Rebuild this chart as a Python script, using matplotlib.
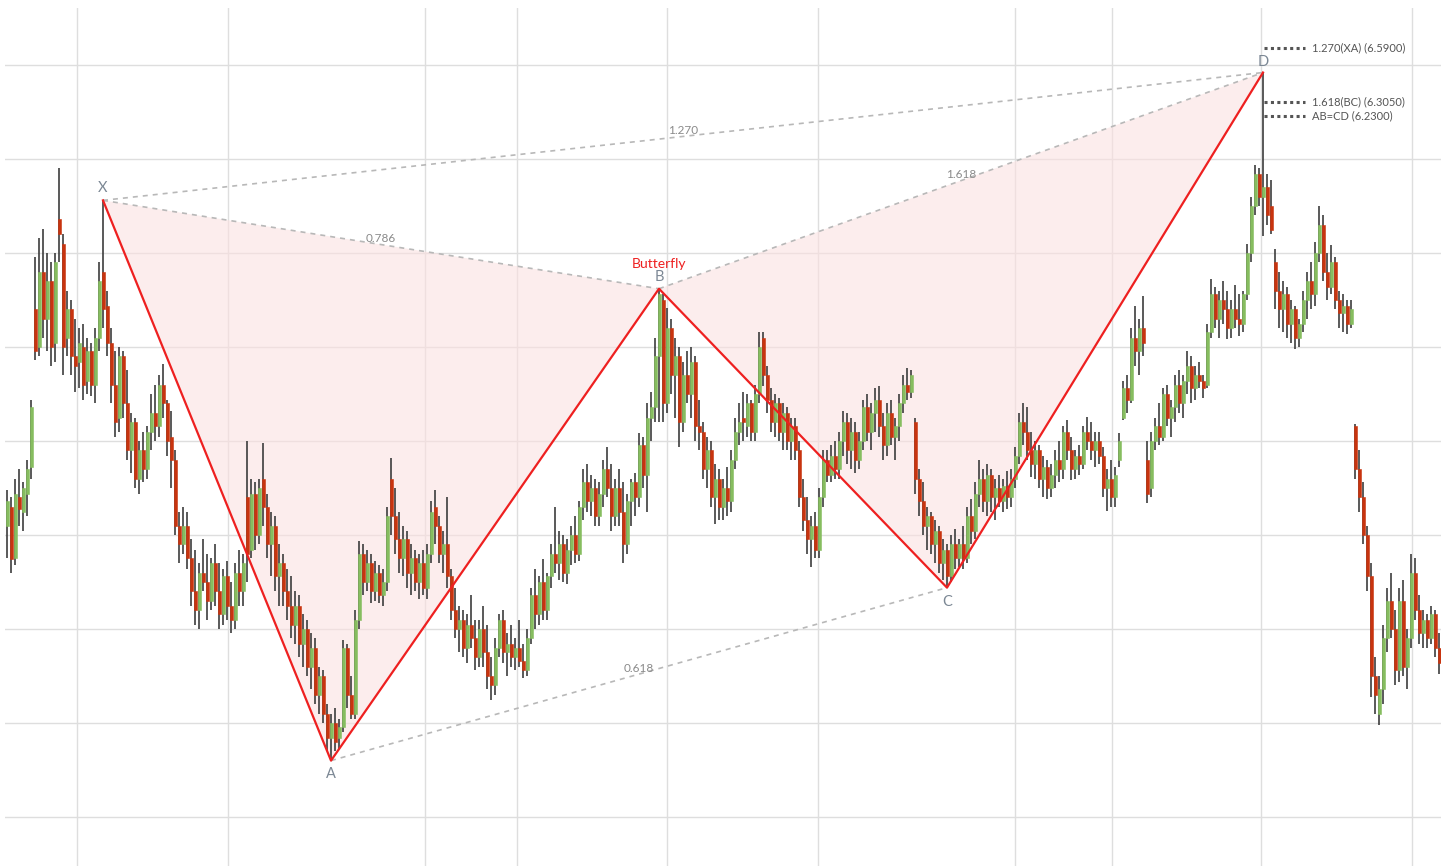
import numpy as np
import matplotlib.pyplot as plt

plt.rcParams['font.family'] = ['Lato', 'DejaVu Sans']

# =========================
# Candle data
# =========================
opens = [
    4.05, 4.15, 3.88, 4.20, 4.12, 4.22, 4.36, 5.20, 5.00, 5.40,
    5.15, 5.35, 5.02, 5.68, 5.55, 5.05, 5.20, 4.95, 4.92, 5.00,
    4.82, 4.98, 4.80, 5.05, 5.40, 5.22, 5.02, 4.80, 4.62, 4.95,
    4.70, 4.45, 4.60, 4.30, 4.45, 4.35, 4.55, 4.65, 4.58, 4.80,
    4.70, 4.52, 4.40, 4.05, 3.95, 4.05, 3.88, 3.70, 3.60, 3.80,
    3.75, 3.65, 3.85, 3.70, 3.58, 3.78, 3.62, 3.55, 3.80, 3.70,
    4.20, 3.92, 4.22, 4.00, 4.30, 4.15, 3.95, 4.05, 3.78, 3.85,
    3.70, 3.62, 3.52, 3.62, 3.42, 3.50, 3.30, 3.40, 3.15, 3.25,
    3.05, 2.92, 3.00, 2.92, 2.98, 3.40, 3.15, 3.05, 3.55, 3.90,
    3.75, 3.85, 3.70, 3.80, 3.68, 3.75, 4.30, 4.10, 3.98, 3.88,
    3.98, 3.80, 3.88, 3.75, 3.85, 3.72, 3.90, 4.15, 4.05, 3.90,
    3.95, 3.78, 3.60, 3.50, 3.55, 3.40, 3.52, 3.45, 3.35, 3.50,
    3.38, 3.25, 3.20, 3.40, 3.55, 3.38, 3.42, 3.35, 3.40, 3.33,
    3.28, 3.45, 3.68, 3.58, 3.75, 3.60, 3.78, 3.90, 3.85, 3.95,
    3.80, 3.92, 4.00, 3.90, 4.15, 4.28, 4.18, 4.25, 4.10, 4.22,
    4.35, 4.25, 4.10, 4.25, 4.12, 3.95, 4.18, 4.28, 4.20, 4.48,
    4.32, 4.62, 4.68, 4.95, 5.25, 4.70, 5.10, 4.85, 4.95, 4.60,
    4.85, 4.75, 4.92, 4.58, 4.55, 4.35, 4.45, 4.20, 4.30, 4.15,
    4.25, 4.18, 4.40, 4.55, 4.60, 4.58, 4.70, 4.55, 4.75, 5.05,
    4.85, 4.72, 4.60, 4.70, 4.55, 4.65, 4.50, 4.58, 4.45, 4.20,
    4.08, 3.98, 4.05, 3.92, 4.20, 4.40, 4.32, 4.42, 4.35, 4.50,
    4.60, 4.45, 4.55, 4.40, 4.50, 4.68, 4.55, 4.65, 4.72, 4.58,
    4.48, 4.65, 4.52, 4.58, 4.70, 4.80, 4.76, 4.60, 4.30, 4.18,
    4.05, 4.10, 3.95, 4.02, 3.85, 3.92, 3.78, 3.95, 3.88, 3.95,
    3.88, 4.10, 4.02, 4.22, 4.30, 4.18, 4.32, 4.20, 4.25, 4.18,
    4.26, 4.20, 4.30, 4.42, 4.60, 4.55, 4.45, 4.38, 4.45, 4.30,
    4.36, 4.25, 4.32, 4.40, 4.35, 4.55, 4.45, 4.35, 4.42, 4.38,
    4.55, 4.50, 4.45, 4.50, 4.42, 4.25, 4.30, 4.20, 4.40, 4.62,
    4.78, 4.72, 5.05, 4.98, 5.10, 4.40, 4.25, 4.50, 4.58, 4.52,
    4.75, 4.62, 4.68, 4.80, 4.70, 4.82, 4.90, 4.78, 4.85, 4.82,
    4.80, 5.08, 5.28, 5.15, 5.25, 5.20, 5.10, 5.20, 5.15, 5.12,
    5.28, 5.50, 5.75, 5.92, 5.80, 5.85, 5.75, 5.45, 5.30, 5.20,
    5.28, 5.12, 5.20, 5.05, 5.12, 5.25, 5.35, 5.28, 5.50, 5.65,
    5.40, 5.32, 5.45, 5.25, 5.18, 5.22, 5.12, 4.58, 4.35, 4.20,
    4.00, 3.78, 3.25, 3.05, 3.18, 3.45, 3.65, 3.50, 3.28, 3.65,
    3.30, 3.45, 3.80, 3.60, 3.48, 3.55, 3.45, 3.58, 3.40,
]
highs = [
    4.24, 4.20, 4.30, 4.35, 4.28, 4.40, 4.72, 5.48, 5.58, 5.63,
    5.50, 5.45, 5.50, 5.95, 5.60, 5.30, 5.25, 5.15, 5.10, 5.12,
    5.05, 5.02, 5.10, 5.45, 5.78, 5.30, 5.10, 4.98, 5.00, 4.98,
    4.88, 4.65, 4.62, 4.50, 4.55, 4.58, 4.75, 4.80, 4.85, 4.91,
    4.72, 4.66, 4.45, 4.12, 4.15, 4.12, 3.98, 3.92, 3.85, 3.98,
    3.90, 3.88, 3.95, 3.85, 3.82, 3.86, 3.75, 3.85, 3.92, 3.90,
    4.50, 4.30, 4.28, 4.30, 4.49, 4.22, 4.12, 4.10, 3.95, 3.90,
    3.82, 3.78, 3.70, 3.68, 3.58, 3.55, 3.48, 3.45, 3.30, 3.28,
    3.10, 3.05, 3.08, 3.02, 3.44, 3.42, 3.25, 3.60, 3.97, 3.95,
    3.92, 3.90, 3.86, 3.84, 3.82, 4.15, 4.41, 4.25, 4.12, 4.05,
    4.02, 3.95, 3.92, 3.90, 3.92, 3.95, 4.18, 4.24, 4.10, 4.02,
    4.20, 3.82, 3.72, 3.62, 3.60, 3.58, 3.68, 3.55, 3.55, 3.62,
    3.52, 3.35, 3.45, 3.58, 3.60, 3.48, 3.52, 3.45, 3.55, 3.42,
    3.50, 3.72, 3.82, 3.78, 3.87, 3.80, 3.95, 4.15, 4.02, 4.00,
    3.98, 4.05, 4.10, 4.18, 4.35, 4.38, 4.32, 4.30, 4.28, 4.40,
    4.47, 4.38, 4.30, 4.35, 4.28, 4.22, 4.30, 4.33, 4.54, 4.52,
    4.70, 4.76, 5.05, 5.31, 5.28, 5.21, 5.15, 5.05, 5.00, 4.92,
    4.98, 5.00, 4.95, 4.72, 4.60, 4.52, 4.50, 4.38, 4.35, 4.30,
    4.36, 4.45, 4.62, 4.70, 4.76, 4.75, 4.72, 4.80, 5.08, 5.08,
    4.90, 4.78, 4.75, 4.73, 4.70, 4.68, 4.62, 4.62, 4.50, 4.30,
    4.20, 4.10, 4.12, 4.25, 4.45, 4.45, 4.48, 4.50, 4.55, 4.66,
    4.65, 4.62, 4.60, 4.55, 4.72, 4.75, 4.70, 4.78, 4.79, 4.65,
    4.70, 4.72, 4.62, 4.75, 4.85, 4.89, 4.88, 4.62, 4.35, 4.28,
    4.15, 4.12, 4.08, 4.05, 3.98, 3.95, 4.00, 4.03, 3.98, 4.05,
    4.15, 4.19, 4.28, 4.40, 4.35, 4.38, 4.35, 4.30, 4.32, 4.30,
    4.34, 4.35, 4.47, 4.65, 4.70, 4.68, 4.55, 4.50, 4.48, 4.42,
    4.40, 4.38, 4.45, 4.50, 4.58, 4.61, 4.52, 4.45, 4.48, 4.58,
    4.63, 4.60, 4.55, 4.55, 4.47, 4.35, 4.40, 4.36, 4.54, 4.82,
    4.85, 5.10, 5.22, 5.15, 5.27, 4.50, 4.55, 4.62, 4.70, 4.78,
    4.80, 4.72, 4.85, 4.88, 4.85, 4.98, 4.95, 4.90, 4.92, 4.85,
    5.12, 5.36, 5.32, 5.30, 5.35, 5.30, 5.25, 5.33, 5.28, 5.30,
    5.55, 5.80, 5.97, 5.95, 6.46, 5.92, 5.89, 5.52, 5.40, 5.35,
    5.32, 5.25, 5.22, 5.15, 5.30, 5.40, 5.45, 5.56, 5.75, 5.70,
    5.50, 5.54, 5.48, 5.30, 5.28, 5.25, 5.25, 4.59, 4.45, 4.28,
    4.05, 3.85, 3.35, 3.25, 3.52, 3.72, 3.80, 3.60, 3.72, 3.76,
    3.50, 3.90, 3.88, 3.68, 3.60, 3.58, 3.62, 3.60, 3.48,
]
lows = [
    3.88, 3.80, 3.84, 4.05, 4.02, 4.10, 4.30, 4.93, 4.95, 5.05,
    4.98, 4.90, 4.92, 5.45, 4.85, 4.95, 4.85, 4.76, 4.78, 4.72,
    4.75, 4.74, 4.70, 4.98, 5.10, 4.95, 4.70, 4.52, 4.55, 4.62,
    4.40, 4.33, 4.25, 4.22, 4.28, 4.30, 4.45, 4.50, 4.52, 4.62,
    4.42, 4.25, 4.00, 3.85, 3.90, 3.82, 3.62, 3.52, 3.50, 3.70,
    3.55, 3.60, 3.62, 3.50, 3.52, 3.55, 3.48, 3.50, 3.62, 3.62,
    3.75, 3.88, 3.92, 3.95, 4.05, 3.88, 3.78, 3.70, 3.62, 3.62,
    3.55, 3.45, 3.42, 3.35, 3.30, 3.25, 3.18, 3.10, 3.05, 3.00,
    2.85, 2.80, 2.85, 2.86, 2.95, 3.08, 3.02, 3.02, 3.50, 3.68,
    3.70, 3.64, 3.65, 3.64, 3.62, 3.70, 4.00, 3.90, 3.80, 3.78,
    3.72, 3.68, 3.70, 3.66, 3.68, 3.66, 3.85, 3.95, 3.85, 3.80,
    3.72, 3.55, 3.45, 3.38, 3.35, 3.32, 3.40, 3.28, 3.30, 3.30,
    3.18, 3.12, 3.15, 3.35, 3.32, 3.25, 3.30, 3.28, 3.30, 3.24,
    3.25, 3.42, 3.50, 3.52, 3.55, 3.55, 3.72, 3.80, 3.76, 3.75,
    3.74, 3.84, 3.85, 3.86, 4.08, 4.12, 4.10, 4.05, 4.05, 4.15,
    4.20, 4.02, 4.05, 4.05, 3.85, 3.90, 4.05, 4.10, 4.15, 4.25,
    4.12, 4.50, 4.60, 4.60, 4.60, 4.65, 4.75, 4.62, 4.47, 4.55,
    4.70, 4.62, 4.50, 4.45, 4.30, 4.25, 4.15, 4.06, 4.08, 4.08,
    4.10, 4.12, 4.35, 4.48, 4.50, 4.52, 4.50, 4.50, 4.70, 4.79,
    4.65, 4.55, 4.52, 4.50, 4.45, 4.45, 4.40, 4.40, 4.15, 4.02,
    3.90, 3.83, 3.88, 3.88, 4.15, 4.28, 4.28, 4.30, 4.30, 4.42,
    4.38, 4.35, 4.33, 4.35, 4.45, 4.50, 4.45, 4.55, 4.52, 4.40,
    4.42, 4.48, 4.40, 4.50, 4.65, 4.72, 4.73, 4.22, 4.10, 4.00,
    3.92, 3.90, 3.85, 3.80, 3.76, 3.72, 3.75, 3.82, 3.83, 3.82,
    3.85, 3.95, 3.98, 4.15, 4.12, 4.10, 4.12, 4.08, 4.15, 4.12,
    4.14, 4.15, 4.25, 4.38, 4.48, 4.40, 4.31, 4.30, 4.25, 4.20,
    4.19, 4.20, 4.25, 4.28, 4.30, 4.40, 4.29, 4.30, 4.32, 4.35,
    4.45, 4.40, 4.36, 4.38, 4.20, 4.13, 4.15, 4.15, 4.36, 4.61,
    4.65, 4.70, 4.90, 4.85, 4.95, 4.17, 4.20, 4.45, 4.48, 4.50,
    4.58, 4.52, 4.60, 4.65, 4.62, 4.75, 4.70, 4.72, 4.78, 4.73,
    4.78, 5.05, 5.10, 5.05, 5.12, 5.04, 5.05, 5.10, 5.06, 5.08,
    5.25, 5.45, 5.70, 5.75, 5.59, 5.65, 5.60, 5.20, 5.10, 5.08,
    5.05, 5.02, 4.99, 5.00, 5.08, 5.15, 5.20, 5.22, 5.45, 5.35,
    5.25, 5.28, 5.20, 5.10, 5.08, 5.07, 5.10, 4.30, 4.12, 3.95,
    3.70, 3.14, 3.05, 2.99, 3.10, 3.38, 3.45, 3.20, 3.22, 3.25,
    3.18, 3.40, 3.55, 3.42, 3.40, 3.40, 3.42, 3.35, 3.26,
]
closes = [
    4.18, 3.87, 4.22, 4.14, 4.25, 4.35, 4.68, 4.98, 5.40, 5.15,
    5.35, 5.00, 5.45, 5.60, 5.00, 5.20, 4.95, 4.90, 5.02, 4.80,
    4.98, 4.80, 5.05, 5.35, 5.20, 5.02, 4.80, 4.60, 4.95, 4.70,
    4.45, 4.60, 4.30, 4.45, 4.35, 4.55, 4.65, 4.58, 4.80, 4.70,
    4.50, 4.40, 4.05, 3.95, 4.05, 3.88, 3.70, 3.60, 3.80, 3.75,
    3.65, 3.85, 3.70, 3.58, 3.78, 3.62, 3.55, 3.80, 3.70, 3.85,
    3.90, 4.22, 4.00, 4.25, 4.15, 3.95, 4.05, 3.78, 3.85, 3.70,
    3.62, 3.52, 3.62, 3.42, 3.50, 3.30, 3.40, 3.15, 3.25, 3.05,
    2.92, 3.00, 2.90, 2.98, 3.40, 3.15, 3.05, 3.55, 3.90, 3.75,
    3.85, 3.70, 3.80, 3.68, 3.75, 4.10, 4.10, 3.98, 3.88, 3.98,
    3.80, 3.88, 3.75, 3.85, 3.72, 3.90, 4.12, 4.05, 3.90, 3.95,
    3.78, 3.60, 3.50, 3.55, 3.40, 3.52, 3.45, 3.35, 3.50, 3.38,
    3.25, 3.20, 3.40, 3.55, 3.38, 3.42, 3.35, 3.40, 3.33, 3.28,
    3.45, 3.68, 3.58, 3.75, 3.60, 3.78, 3.90, 3.85, 3.95, 3.80,
    3.92, 4.00, 3.90, 4.15, 4.28, 4.18, 4.25, 4.10, 4.22, 4.35,
    4.25, 4.10, 4.25, 4.12, 3.95, 4.18, 4.28, 4.20, 4.48, 4.32,
    4.62, 4.68, 4.95, 5.28, 4.70, 5.10, 4.85, 4.95, 4.60, 4.85,
    4.75, 4.92, 4.58, 4.55, 4.35, 4.45, 4.20, 4.30, 4.15, 4.25,
    4.18, 4.40, 4.55, 4.60, 4.58, 4.70, 4.55, 4.75, 5.00, 4.85,
    4.72, 4.60, 4.70, 4.55, 4.65, 4.50, 4.58, 4.45, 4.20, 4.08,
    3.98, 4.05, 3.92, 4.20, 4.40, 4.32, 4.42, 4.35, 4.50, 4.60,
    4.45, 4.55, 4.40, 4.50, 4.68, 4.55, 4.65, 4.72, 4.58, 4.48,
    4.65, 4.52, 4.58, 4.70, 4.80, 4.76, 4.85, 4.30, 4.18, 4.05,
    4.10, 3.95, 4.02, 3.85, 3.92, 3.78, 3.95, 3.88, 3.95, 3.88,
    4.10, 4.02, 4.22, 4.30, 4.18, 4.32, 4.20, 4.25, 4.18, 4.26,
    4.20, 4.30, 4.42, 4.60, 4.55, 4.45, 4.38, 4.45, 4.30, 4.36,
    4.25, 4.32, 4.40, 4.35, 4.55, 4.45, 4.35, 4.42, 4.38, 4.55,
    4.50, 4.45, 4.50, 4.42, 4.25, 4.30, 4.20, 4.32, 4.50, 4.78,
    4.72, 5.05, 4.98, 5.10, 5.02, 4.22, 4.50, 4.58, 4.52, 4.75,
    4.62, 4.68, 4.80, 4.70, 4.82, 4.90, 4.78, 4.85, 4.82, 4.78,
    5.08, 5.28, 5.15, 5.25, 5.20, 5.10, 5.20, 5.15, 5.12, 5.28,
    5.50, 5.75, 5.92, 5.80, 5.85, 5.70, 5.62, 5.30, 5.20, 5.28,
    5.12, 5.20, 5.05, 5.12, 5.25, 5.35, 5.28, 5.50, 5.65, 5.40,
    5.32, 5.45, 5.25, 5.18, 5.22, 5.12, 5.20, 4.35, 4.20, 4.00,
    3.78, 3.25, 3.15, 3.18, 3.45, 3.65, 3.50, 3.28, 3.65, 3.30,
    3.45, 3.80, 3.60, 3.48, 3.55, 3.45, 3.58, 3.40, 3.32,
]

# Butterfly pattern pivots (bar index, price)
pivot_names = ['X', 'A', 'B', 'C', 'D']
pivot_idx = [24, 81, 163, 235, 314]
pivot_px = [5.78, 2.80, 5.31, 3.72, 6.46]

# ratio legs: (from pivot, to pivot, label)
ratio_legs = [('X', 'B', '0.786'), ('X', 'D', '1.270'),
              ('A', 'C', '0.618'), ('B', 'D', '1.618')]

# projected levels at D
level_names = ['1.270(XA) (6.5900)', '1.618(BC) (6.3050)', 'AB=CD (6.2300)']
level_px = [6.59, 6.305, 6.23]

# grid
price_grid = [2.5, 3.0, 3.5, 4.0, 4.5, 5.0, 5.5, 6.0, 6.5]
date_grid = [17.5, 55.25, 104.5, 127.5, 165, 202.75, 252, 276.25, 313.5, 351.25]

# =========================
# Plotting
# =========================
W, H = 1450, 866
fig = plt.figure(figsize=(W / 100, H / 100), dpi=100)
ax = fig.add_axes([5 / W, 0, 1436 / W, 858 / H])
ax.set_xlim(-0.5, len(closes) - 0.5)
ax.set_ylim(2.2394, 6.8032)
for s in ax.spines.values():
    s.set_visible(False)
ax.set_xticks([])
ax.set_yticks([])
for p in price_grid:
    ax.axhline(p, color='#dedede', lw=1.0, zorder=0)
for d in date_grid:
    ax.axvline(d, color='#dedede', lw=1.0, zorder=0)

# candles
x = np.arange(len(closes))
o = np.array(opens)
c = np.array(closes)
ax.vlines(x, lows, highs, color='#3d3d3d', lw=1.2, zorder=3)
up = c >= o
body = np.where(np.abs(c - o) < 0.02, 0.02, c - o)
ax.bar(x[up], body[up], bottom=o[up], width=0.75, color='#86bd5f',
       edgecolor='#86bd5f', linewidth=0.4, zorder=4)
ax.bar(x[~up], body[~up], bottom=o[~up], width=0.75, color='#c8340f',
       edgecolor='#c8340f', linewidth=0.4, zorder=4)

# pattern
pv = dict(zip(pivot_names, zip(pivot_idx, pivot_px)))
for tri in (('X', 'A', 'B'), ('B', 'C', 'D')):
    ax.fill([pv[k][0] for k in tri], [pv[k][1] for k in tri],
            color='#fbe1e1', alpha=0.6, lw=0, zorder=1)

for a, b, lab in ratio_legs:
    (x0, y0), (x1, y1) = pv[a], pv[b]
    ax.plot([x0, x1], [y0, y1], color='#b8b8b8', lw=1.2,
            ls=(0, (3, 3)), zorder=2)
    ax.text((x0 + x1) / 2, (y0 + y1) / 2 + 0.03, lab, color='#8a8a8a',
            fontsize=8.5, ha='center', va='center', zorder=5)

ax.plot(pivot_idx, pivot_px, color='#ee2020', lw=1.6, zorder=6)

offsets = {'X': 0.065, 'A': -0.07, 'B': 0.06, 'C': -0.075, 'D': 0.055}
for n, xi, yi in zip(pivot_names, pivot_idx, pivot_px):
    ax.text(xi, yi + offsets[n], n, color='#7b8794', fontsize=10.5,
            ha='center', va='center', zorder=7)
ax.text(pivot_idx[2], pivot_px[2] + 0.13, 'Butterfly', color='#ee2020',
        fontsize=10, ha='center', va='center', zorder=7)

# projected levels
dx = pivot_idx[4]
for name, lv in zip(level_names, level_px):
    ax.plot([dx + 0.3, dx + 10.5], [lv, lv], color='#555555', lw=2.2,
            ls=(0, (1, 1.1)), zorder=6)
    ax.text(dx + 12.2, lv, name, color='#555555', fontsize=8,
            ha='left', va='center', zorder=7)

plt.savefig('out.png', dpi=100)
